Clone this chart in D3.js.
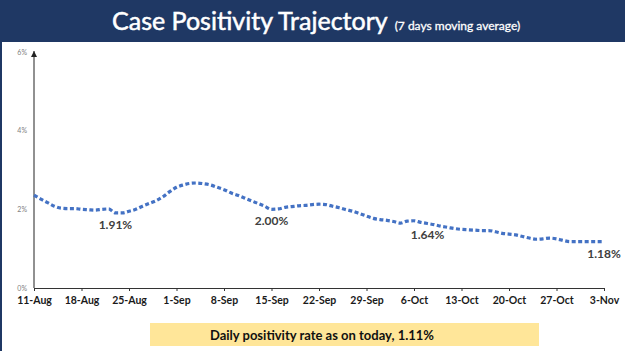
<!DOCTYPE html>
<html>
<head>
<meta charset="utf-8">
<script src="https://cdn.jsdelivr.net/npm/d3@7"></script>
<style>
    body { margin: 0; background: #ffffff; }
    svg { display: block; }
    .title { font-family: Lato, sans-serif; fill: #ffffff; stroke: #ffffff; stroke-width: 0.5px; }
    .x.axis text { font-family: Lato, sans-serif; font-weight: bold; font-size: 10.5px; fill: #1a1a1a; }
    .y-label { font-family: Lato, sans-serif; font-size: 7px; fill: #808080; }
    .data-label { font-family: Lato, sans-serif; font-weight: bold; font-size: 12px; fill: #404040; }
    .note { font-family: Lato, sans-serif; font-weight: bold; font-size: 13px; fill: #111111; }
</style>
</head>
<body>
<div id="chart"></div>
<script>
const container_id = 'chart';
const width = 625, height = 351;
const margin = {
    top: 52,
    bottom: 63,
    left: 34,
    right: 21
}

// 7 day moving average, one value per day from 11-Aug to 3-Nov
const startDate = new Date(2020, 7, 11);
const positivity = [
    2.36, 2.26, 2.17, 2.08, 2.03, 2.02, 2.02, 2.00, 1.99, 1.98,
    2.00, 2.01, 1.91, 1.91, 1.95, 2.00, 2.08, 2.15, 2.22, 2.32,
    2.45, 2.56, 2.62, 2.66, 2.67, 2.65, 2.62, 2.56, 2.50, 2.42,
    2.36, 2.29, 2.22, 2.15, 2.08, 2.00, 2.01, 2.05, 2.07, 2.09,
    2.10, 2.12, 2.13, 2.12, 2.08, 2.04, 1.99, 1.95, 1.89, 1.83,
    1.77, 1.74, 1.72, 1.69, 1.65, 1.70, 1.71, 1.67, 1.64, 1.61,
    1.57, 1.54, 1.51, 1.49, 1.48, 1.47, 1.46, 1.46, 1.43, 1.39,
    1.37, 1.35, 1.31, 1.27, 1.24, 1.25, 1.27, 1.25, 1.21, 1.18,
    1.18, 1.18, 1.18, 1.18, 1.18
];
const tickLabels = ['11-Aug', '18-Aug', '25-Aug', '1-Sep', '8-Sep', '15-Sep', '22-Sep',
                    '29-Sep', '6-Oct', '13-Oct', '20-Oct', '27-Oct', '3-Nov'];
const yTicks = [0, 2, 4, 6];
const labelDays = [12, 35, 58, 84];
const labelTexts = ['1.91%', '2.00%', '1.64%', '1.18%'];

const dayDate = i => d3.timeDay.offset(startDate, i);

const xScale = d3.scaleTime()
    .domain([startDate, dayDate(positivity.length - 1)])
    .range([0, width - (margin.left + margin.right)]);

const yScale = d3.scaleLinear().domain([0, 6]).range([height - (margin.top + margin.bottom), 0]);

function drawFrame(svg) {
    svg.append('rect')
        .attr('width', width).attr('height', height)
        .attr('fill', '#1f3864');
    svg.append('rect')
        .attr('x', 2).attr('y', 42)
        .attr('width', width - 2).attr('height', height - 42)
        .attr('fill', '#ffffff');

    let title = svg.append('text')
        .attr('class', 'title')
        .attr('x', 112)
        .attr('y', 30);
    title.append('tspan').attr('font-size', '25px').text('Case Positivity Trajectory');
    title.append('tspan').attr('font-size', '12px').attr('stroke-width', 0.3).attr('dx', 7).text('(7 days moving average)');
}

function drawXAxis(svg) {
    let axis = svg.append('g')
        .attr('class', 'x axis')
        .attr('transform', 'translate(' + margin.left + ',' + (height - margin.bottom) + ')')
        .call(d3.axisBottom(xScale)
            .tickValues(tickLabels.map((d, i) => dayDate(i * 7)))
            .tickFormat((d, i) => tickLabels[i])
            .tickSize(3)
            .tickPadding(6)
            .tickSizeOuter(0));
    axis.select('.domain').attr('stroke', '#333333');
    axis.selectAll('.tick line').attr('stroke', '#333333');
}

function drawYAxis(svg) {
    svg.append('defs').append('marker')
        .attr('id', 'arrow')
        .attr('viewBox', '0 0 10 10')
        .attr('refX', 10).attr('refY', 5)
        .attr('markerWidth', 6).attr('markerHeight', 6)
        .attr('orient', 'auto')
        .append('path')
        .attr('d', 'M0,0 L10,5 L0,10 z')
        .attr('fill', '#222222');

    let g = svg.append('g')
        .attr('class', 'y axis')
        .attr('transform', 'translate(' + margin.left + ',' + margin.top + ')');
    g.append('line')
        .attr('x1', 0).attr('x2', 0)
        .attr('y1', yScale(0)).attr('y2', yScale(6) - 1)
        .attr('stroke', '#222222')
        .attr('stroke-width', 1)
        .attr('marker-end', 'url(#arrow)');
    g.selectAll('.y-label')
        .data(yTicks)
        .enter()
        .append('text')
            .attr('class', 'y-label')
            .attr('x', -7)
            .attr('y', d => yScale(d) + 2.5)
            .attr('text-anchor', 'end')
            .text(d => d + '%');
}

function drawLine(svg) {
    let g = svg.append('g')
        .attr('transform', 'translate(' + margin.left + ',' + margin.top + ')');

    let line = d3.line()
        .x((d, i) => xScale(dayDate(i)))
        .y(d => yScale(d))
        .curve(d3.curveMonotoneX);

    g.append('path')
        .datum(positivity)
        .attr('d', line)
        .attr('fill', 'none')
        .attr('stroke', '#4472c4')
        .attr('stroke-width', 3.2)
        .attr('stroke-dasharray', '4,2.5');

    g.selectAll('.data-label')
        .data(labelDays)
        .enter()
        .append('text')
            .attr('class', 'data-label')
            .attr('x', d => xScale(dayDate(d)))
            .attr('y', d => yScale(positivity[d]) + 16)
            .attr('text-anchor', 'middle')
            .text((d, i) => labelTexts[i]);
}

function drawNote(svg) {
    svg.append('rect')
        .attr('x', 150).attr('y', 323)
        .attr('width', 389).attr('height', 23)
        .attr('fill', '#ffe699');
    svg.append('text')
        .attr('class', 'note')
        .attr('x', 322).attr('y', 339.5)
        .attr('text-anchor', 'middle')
        .text('Daily positivity rate as on today, 1.11%');
}

function main() {
    let svg = d3.select('#' + container_id)
        .append('svg')
            .attr('width', width)
            .attr('height', height);

    drawFrame(svg);
    drawYAxis(svg);
    drawXAxis(svg);
    drawLine(svg);
    drawNote(svg);
}

main();
</script>
</body>
</html>
